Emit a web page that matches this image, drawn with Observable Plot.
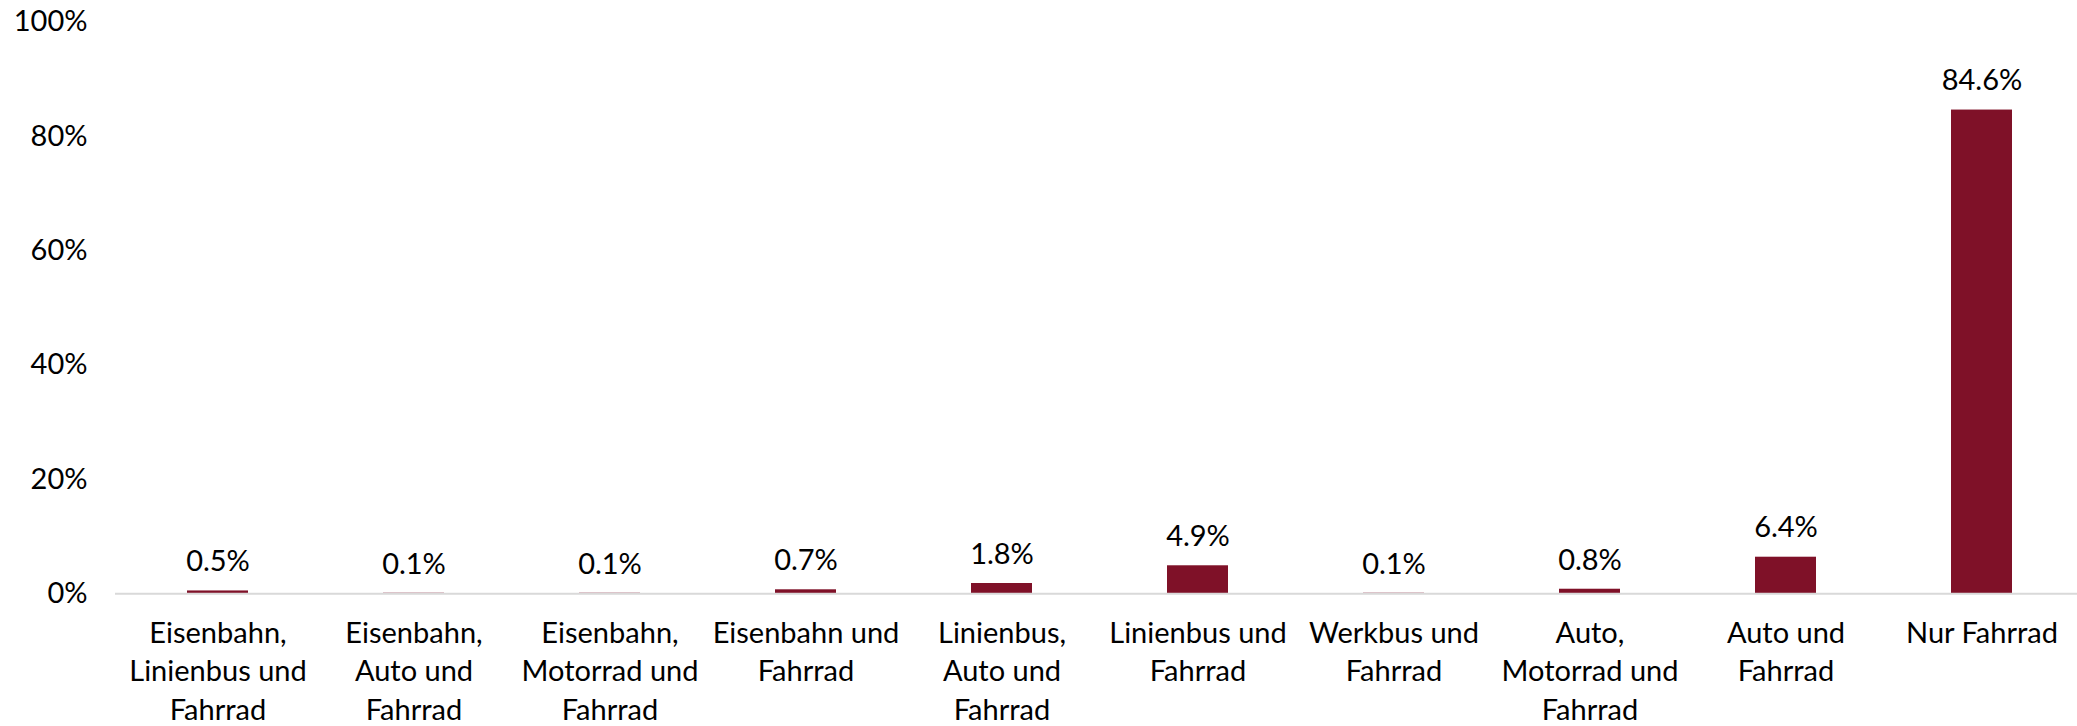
<!DOCTYPE html>
<html>
<head>
<meta charset="utf-8">
<script src="https://cdn.jsdelivr.net/npm/d3@7"></script>
<script src="https://cdn.jsdelivr.net/npm/@observablehq/plot@0.6"></script>
<style>
  html, body { margin: 0; padding: 0; background: #fff; overflow: hidden; }
  #chart svg { display: block; }
</style>
</head>
<body>
<div id="chart"></div>
<script>
const categories = [
  "Eisenbahn, Linienbus und Fahrrad",
  "Eisenbahn, Auto und Fahrrad",
  "Eisenbahn, Motorrad und Fahrrad",
  "Eisenbahn und Fahrrad",
  "Linienbus, Auto und Fahrrad",
  "Linienbus und Fahrrad",
  "Werkbus und Fahrrad",
  "Auto, Motorrad und Fahrrad",
  "Auto und Fahrrad",
  "Nur Fahrrad"
];
const tickLabels = [
  "Eisenbahn,\nLinienbus und\nFahrrad",
  "Eisenbahn,\nAuto und\nFahrrad",
  "Eisenbahn,\nMotorrad und\nFahrrad",
  "Eisenbahn und\nFahrrad",
  "Linienbus,\nAuto und\nFahrrad",
  "Linienbus und\nFahrrad",
  "Werkbus und\nFahrrad",
  "Auto,\nMotorrad und\nFahrrad",
  "Auto und\nFahrrad",
  "Nur Fahrrad"
];
const values = [0.5, 0.1, 0.1, 0.7, 1.8, 4.9, 0.1, 0.8, 6.4, 84.6];
const yTicks = [0, 20, 40, 60, 80, 100];

const data = categories.map((c, i) => ({category: c, value: values[i]}));
const labelOf = new Map(categories.map((c, i) => [c, tickLabels[i]]));

const font = "Lato, 'Open Sans', sans-serif";

const chart = Plot.plot({
  width: 2077,
  height: 726,
  marginTop: 21.5,
  marginBottom: 132.7,
  marginLeft: 115,
  marginRight: -7,
  style: {fontFamily: font, fontSize: "29px", color: "#000", background: "#fff", overflow: "hidden"},
  x: {domain: categories, paddingInner: 0.687, paddingOuter: 0.3435, label: null},
  y: {domain: [0, 100], label: null},
  marks: [
    Plot.axisY({ticks: yTicks, tickSize: 0, tickPadding: 28, tickFormat: d => d + "%", fontSize: 29, fill: "#000"}),
    Plot.axisX({tickSize: 0, tickPadding: 22, tickFormat: d => labelOf.get(d), fontSize: 29, lineHeight: 1.32, lineAnchor: "top", fill: "#000"}),
    Plot.barY(data, {x: "category", y: "value", fill: "#7f1128"}),
    Plot.ruleY([0], {stroke: "#d9d9d9", strokeWidth: 2}),
    Plot.text(data, {x: "category", y: "value", text: d => d.value.toFixed(1) + "%", dy: -29, lineAnchor: "middle", fontSize: 29, fill: "#000"})
  ]
});
document.getElementById("chart").appendChild(chart);
</script>
</body>
</html>
